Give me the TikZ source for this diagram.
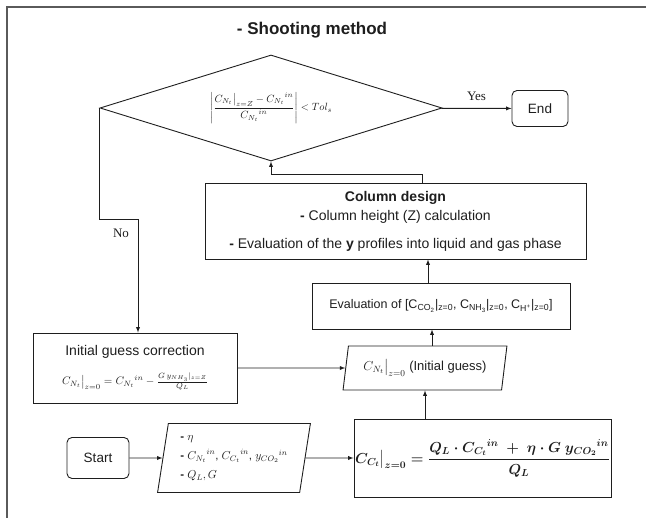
\RequirePackage{fix-cm}
\documentclass[tikz,border=0pt]{standalone}
\usepackage{fontspec}
\setmainfont{Liberation Sans}
\newfontfamily\labelfont{Liberation Serif}
\usepackage{amsmath,amssymb}
\usepackage{tikz}
\usetikzlibrary{shapes,arrows,positioning,calc}
\definecolor{framegray}{RGB}{90,90,90}
\definecolor{base}{RGB}{30,30,30}

\begin{document}
\begin{tikzpicture}[x=1pt,y=1pt,
    every node/.style={inner sep=0pt, text=base},
    proc/.style={draw=base, line width=.9pt, align=center},
    term/.style={draw=base, line width=.9pt, rounded corners=5pt, font=\fontsize{13.5}{16}\selectfont},
    decision/.style={diamond, draw=base, line width=.9pt, shape aspect=3.2, minimum width=342pt, minimum height=106pt, inner sep=1pt, font=\fontsize{10.5}{12}\selectfont},
    inout/.style={trapezium, trapezium stretches=true, draw=base, line width=.9pt},
    arr/.style={draw=base, line width=.9pt, -latex},
    lbl/.style={font=\labelfont\fontsize{13}{15}\selectfont}]
    \useasboundingbox (0,0) rectangle (646,518);
    % frame and title
    \draw[framegray, line width=1.4pt] (7,0) -- (7,511) -- (646,511);
    \node[font=\bfseries\fontsize{17}{20}\selectfont] (title) at (312,488) {- Shooting method};
    % decision and end
    \node[decision] (dec) at (271,410) {$\left|\dfrac{C_{N_t}\big|_{z=Z}-{C_{N_t}}^{in}}{{C_{N_t}}^{in}}\right|<Tol_s$};
    \node[term, minimum width=56pt, minimum height=36pt] (end) at (540,409.5) {End};
    % column calculations
    \node[proc, minimum width=381pt, minimum height=76pt, font=\fontsize{14}{17}\selectfont] (col) at (395.5,297)
        {\textbf{Column design}\\[2pt] \textbf{-} Column height (Z) calculation\\[11pt] \textbf{-} Evaluation of the \textbf{y} profiles into liquid and gas phase};
    \node[proc, minimum width=258pt, minimum height=46pt, font=\fontsize{12.5}{15}\selectfont] (eval) at (441,212)
        {Evaluation of [C\textsubscript{CO\textsubscript{2}}|\textsubscript{z=0}, C\textsubscript{NH\textsubscript{3}}|\textsubscript{z=0}, C\textsubscript{H\textsuperscript{+}}|\textsubscript{z=0}]};
    % initial guess
    \node[proc, minimum width=204pt, minimum height=70pt, font=\fontsize{14}{17}\selectfont] (init) at (135,150)
        {Initial guess correction\\[12pt] {\fontsize{11}{13}\selectfont $C_{N_t}\big|_{z=0}={C_{N_t}}^{in}-\frac{G\,y_{NH_3}|_{z=Z}}{Q_L}$}};
    \node[inout, trapezium left angle=75, trapezium right angle=105, minimum width=164pt, minimum height=44pt, font=\fontsize{13}{15}\selectfont] (guess) at (425,150)
        {$C_{N_t}\big|_{z=0}$ (Initial guess)};
    % start and inputs
    \node[term, minimum width=62pt, minimum height=41pt] (start) at (98,60) {Start};
    \node[inout, trapezium left angle=79, trapezium right angle=101, minimum width=153pt, minimum height=69pt, align=left, font=\fontsize{11.5}{13}\selectfont] (input) at (234,60)
        {\textbf{-} $\eta$\\[6pt] \textbf{-} ${C_{N_t}}^{in}$, ${C_{C_t}}^{in}$, ${y_{CO_2}}^{in}$\\[6pt] \textbf{-} $Q_L, G$};
    \node[proc, minimum width=257pt, minimum height=78pt, font=\fontsize{14.5}{17}\selectfont\boldmath] (feed) at (482.5,60)
        {$C_{C_t}\big|_{z=0}=\dfrac{Q_L\cdot{C_{C_t}}^{in}\ +\ \eta\cdot G\ {y_{CO_2}}^{in}}{Q_L}$};
    % connectors
    \draw[arr] (start) -- (input);
    \draw[arr] (input) -- (feed);
    \draw[arr] (feed.north -| guess.south) -- (guess.south);
    \draw[arr] ([xshift=7pt]guess.north) -- ([xshift=7pt]guess.north |- eval.south);
    \draw[arr] ([xshift=-13pt]eval.north) -- ([xshift=-13pt]eval.north |- col.south);
    \draw[arr] ([xshift=27pt]col.north) -- ++(0,8) -| (dec.south);
    \draw[arr] (dec) -- (end) node[lbl, midway, above=7pt] (yes) {Yes};
    \draw[arr] (dec.west) -- ++(0,-111) -| ([xshift=3pt]init.north);
    \node[lbl] (no) at (121,285) {No};
    \draw[arr] (init) -- (guess);
\end{tikzpicture}
\end{document}
